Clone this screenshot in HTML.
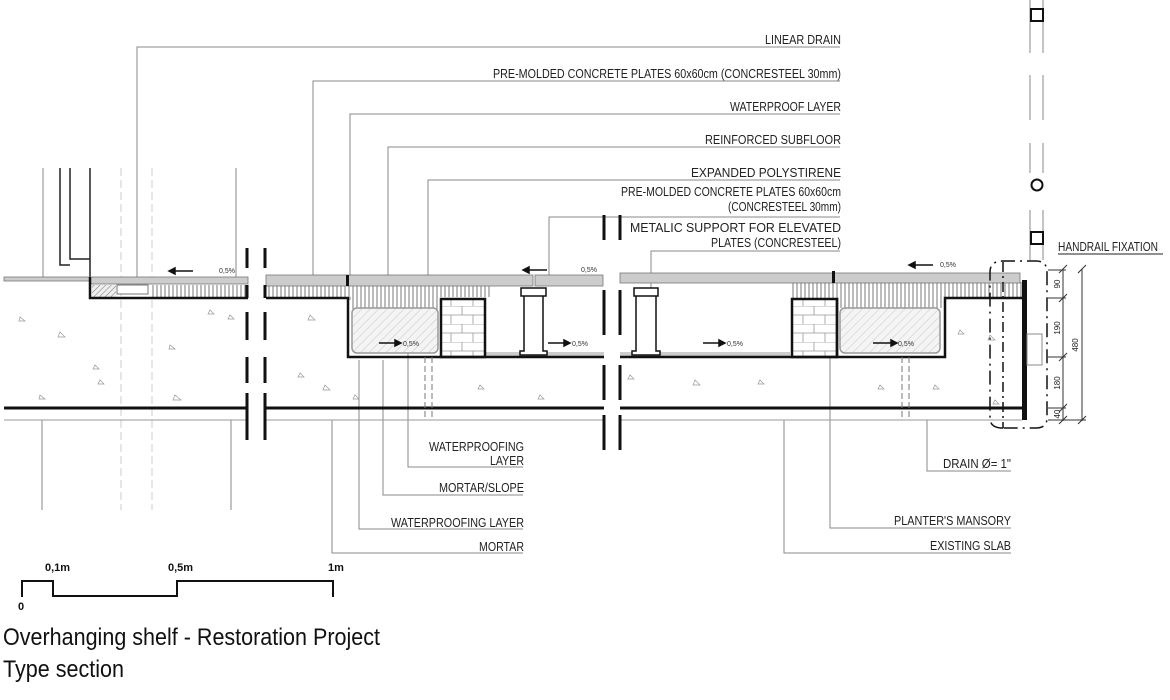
<!DOCTYPE html>
<html><head><meta charset="utf-8"><style>
html,body{margin:0;padding:0;background:#fff;}
svg{display:block;font-family:"Liberation Sans",sans-serif;}
.l{font-size:13px;fill:#222;}
</style></head><body>
<svg width="1170" height="700" viewBox="0 0 1170 700" xmlns="http://www.w3.org/2000/svg">
<defs>
<pattern id="vh" width="4" height="10" patternUnits="userSpaceOnUse"><rect width="4" height="10" fill="#fff"/><line x1="1" y1="0" x2="1" y2="10" stroke="#555" stroke-width="0.8"/></pattern>
<pattern id="dh" width="6" height="6" patternUnits="userSpaceOnUse" patternTransform="rotate(45)"><rect width="6" height="6" fill="#f4f4f4"/><line x1="0" y1="0" x2="0" y2="6" stroke="#bbb" stroke-width="0.8"/></pattern>
<pattern id="dh2" width="4" height="4" patternUnits="userSpaceOnUse" patternTransform="rotate(45)"><rect width="4" height="4" fill="#eee"/><line x1="0" y1="0" x2="0" y2="4" stroke="#555" stroke-width="0.8"/></pattern>
<pattern id="br" width="44" height="18" patternUnits="userSpaceOnUse"><rect width="44" height="18" fill="#fff"/><path d="M0 0H44M0 9H44M22 0V9M11 9V18M33 9V18" stroke="#999" stroke-width="0.8" fill="none"/></pattern>
</defs>
<g stroke="#888" stroke-width="1" fill="none">
<path d="M137 290V47H840"/><path d="M313 280V81H840"/><path d="M350 300V114H840"/><path d="M388 300V147H840"/><path d="M428 330V180H840"/><path d="M549 275V217H840"/><path d="M651 290V251H840"/>
<path d="M408 345V467H523"/><path d="M383 360V495H523"/><path d="M359 360V529H523"/><path d="M332 420V553H523"/>
<path d="M927 420V471H1011"/><path d="M830 340V528H1011"/><path d="M784 420V553H1011"/>
<line x1="43" y1="168" x2="43" y2="277"/><line x1="236" y1="168" x2="236" y2="277"/>
<line x1="42" y1="420" x2="42" y2="510"/><line x1="231" y1="420" x2="231" y2="510"/>
<path d="M1030 0V53M1043 0V53M1030 75V120M1043 75V120M1030 143V173M1043 143V173M1030 210V260M1043 210V260"/>
</g>
<path d="M60 168V265H70M70 168V259H90M90 168V277" stroke="#222" stroke-width="1.5" fill="none"/>
<g stroke="#ccc" stroke-dasharray="8 4" stroke-width="1"><line x1="121" y1="168" x2="121" y2="510"/><line x1="152" y1="168" x2="152" y2="510"/></g>
<rect x="1031" y="9" width="12" height="12" fill="#fff" stroke="#111" stroke-width="2"/>
<circle cx="1037" cy="185" r="5.5" fill="#fff" stroke="#111" stroke-width="2"/>
<rect x="1031" y="232" width="12" height="12" fill="#fff" stroke="#111" stroke-width="2"/>

<rect x="4" y="277" width="86" height="4" fill="#ccc" stroke="#777" stroke-width="0.8"/>
<rect x="90" y="277" width="158" height="7" fill="#ccc" stroke="#777" stroke-width="0.8"/>
<rect x="92" y="285" width="24" height="12" fill="url(#dh2)"/>
<rect x="117" y="285" width="31" height="9" fill="#fff" stroke="#777" stroke-width="1"/>
<rect x="150" y="285" width="98" height="12" fill="url(#vh)"/>
<path d="M90 277V298H248" stroke="#111" stroke-width="2.5" fill="none"/>
<line x1="4" y1="408" x2="248" y2="408" stroke="#111" stroke-width="3"/>
<line x1="4" y1="420" x2="248" y2="420" stroke="#999" stroke-width="1"/>

<rect x="266" y="285" width="224" height="12" fill="url(#vh)"/>
<rect x="352" y="297" width="86" height="12" fill="url(#vh)"/>
<rect x="352" y="308" width="86" height="45" rx="5" fill="url(#dh)" stroke="#999" stroke-width="1.5"/>
<rect x="441" y="300" width="44" height="56" fill="url(#br)"/>
<rect x="486" y="352" width="118" height="5" fill="#ccc"/>
<path d="M266 298H348V357H604" stroke="#111" stroke-width="2.5" fill="none"/>
<rect x="441" y="299" width="44" height="58" fill="none" stroke="#111" stroke-width="2.5"/>
<rect x="266" y="275" width="267" height="11" fill="#ccc" stroke="#777" stroke-width="0.8"/>
<rect x="535" y="275" width="68" height="11" fill="#ccc" stroke="#777" stroke-width="0.8"/>
<rect x="346" y="275" width="3" height="11" fill="#111"/>
<path d="M524 296V351H520V355H547V351H543V296ZM521 288H546V296H521Z" fill="#fff" stroke="#111" stroke-width="1.5"/>
<line x1="266" y1="408" x2="604" y2="408" stroke="#111" stroke-width="3"/>
<line x1="266" y1="420" x2="604" y2="420" stroke="#999" stroke-width="1"/>
<path d="M425 357V420M432 357V420" stroke="#777" stroke-dasharray="6 3"/>

<rect x="620" y="352" width="170" height="5" fill="#ccc"/>
<rect x="790" y="282" width="232" height="16" fill="url(#vh)"/>
<rect x="838" y="298" width="104" height="10" fill="url(#vh)"/>
<rect x="840" y="308" width="100" height="45" rx="5" fill="url(#dh)" stroke="#999" stroke-width="1.5"/>
<rect x="792" y="300" width="45" height="56" fill="url(#br)"/>
<path d="M620 357H837V298M837 357H945V298H1022" stroke="#111" stroke-width="2.5" fill="none"/>
<rect x="792" y="299" width="45" height="58" fill="none" stroke="#111" stroke-width="2.5"/>
<rect x="620" y="273" width="400" height="10" fill="#ccc" stroke="#777" stroke-width="0.8"/>
<rect x="832" y="271" width="3" height="12" fill="#111"/>
<path d="M636 296V351H632V355H660V351H656V296ZM634 288H658V296H634Z" fill="#fff" stroke="#111" stroke-width="1.5"/>
<line x1="620" y1="408" x2="1022" y2="408" stroke="#111" stroke-width="3"/>
<line x1="620" y1="420" x2="1022" y2="420" stroke="#999" stroke-width="1"/>
<path d="M902 357V420M909 357V420" stroke="#777" stroke-dasharray="6 3"/>
<rect x="1022" y="280" width="5" height="140" fill="#111"/>
<rect x="1027" y="334" width="15" height="31" fill="#fff" stroke="#888"/>
<line x1="1003" y1="262" x2="1003" y2="428" stroke="#111" stroke-width="1.5" stroke-dasharray="10 4 2 4"/>
<path d="M1003 428Q990 428 990 418V272Q990 261 1003 261H1036Q1047 261 1047 272V418Q1047 428 1036 428Z" fill="none" stroke="#111" stroke-width="1.5" stroke-dasharray="14 5 2 5"/>
<g stroke="#333" stroke-width="1"><line x1="1063" y1="269" x2="1063" y2="421"/><line x1="1082" y1="269" x2="1082" y2="421"/>
<path d="M1059 273l8-8M1059 302l8-8M1059 361l8-8M1059 412l8-8M1059 424l8-8M1078 273l8-8M1078 424l8-8M1048 270H1066M1048 298H1066M1048 357H1066M1048 408H1066M1048 420H1086"/></g>
<g font-size="8" fill="#222" text-anchor="middle">
<text transform="translate(1060,284) rotate(-90)">90</text><text transform="translate(1060,328) rotate(-90)">190</text><text transform="translate(1060,383) rotate(-90)">180</text><text transform="translate(1060,414) rotate(-90)">40</text><text transform="translate(1078,345) rotate(-90)">480</text></g>

<g stroke="#111" stroke-width="3"><path d="M247 248V268M247 285V298M247 312V340M247 357V383M247 393V440M265 248V268M265 285V298M265 312V340M265 357V383M265 393V440M604 215V240M604 290V335M604 365V400M604 415V450M620 215V240M620 290V335M620 365V400M620 415V450"/></g>

<g stroke="#111" stroke-width="1.5" fill="#111">
<path d="M193 271H173"/><path d="M169 271l6-3v6z"/>
<path d="M547 270H527"/><path d="M523 270l6-3v6z"/>
<path d="M933 265H913"/><path d="M909 265l6-3v6z"/>
<path d="M379 343H397"/><path d="M401 343l-6-3v6z"/>
<path d="M548 343H566"/><path d="M570 343l-6-3v6z"/>
<path d="M703 343H721"/><path d="M725 343l-6-3v6z"/>
<path d="M873 343H893"/><path d="M897 343l-6-3v6z"/>
</g>
<g font-size="7" fill="#333"><text x="219" y="273">0,5%</text><text x="581" y="272">0,5%</text><text x="940" y="267">0,5%</text><text x="403" y="346">0,5%</text><text x="572" y="346">0,5%</text><text x="727" y="346">0,5%</text><text x="898" y="346">0,5%</text></g>

<g fill="none" stroke="#999" stroke-width="0.7">
<path d="M20 317l5 4h-6z M60 332l5 5h-7z M95 365l4 4h-6z M170 345l5 4h-6z M210 310l4 4h-6z M40 395l5 4h-6z M175 395l6 5h-8z M230 315l4 4h-6z M100 380l4 4h-6z M310 315l5 5h-7z M300 373l4 4h-6z M325 385l5 5h-7z M355 395l4 4h-6z M630 375l4 4h-6z M695 380l5 5h-7z M760 380l4 4h-6z M880 385l4 4h-6z M960 330l4 4h-6z M990 335l5 5h-7z M935 385l4 4h-6z M995 400l4 4h-6z M540 395l4 4h-6z M480 385l4 4h-6z"/></g>

<g class="l" text-anchor="end" lengthAdjust="spacingAndGlyphs">
<text x="841" y="44" textLength="76" lengthAdjust="spacingAndGlyphs">LINEAR DRAIN</text>
<text x="841" y="78" textLength="348" lengthAdjust="spacingAndGlyphs">PRE-MOLDED CONCRETE PLATES 60x60cm (CONCRESTEEL 30mm)</text>
<text x="841" y="111" textLength="111" lengthAdjust="spacingAndGlyphs">WATERPROOF LAYER</text>
<text x="841" y="144" textLength="136" lengthAdjust="spacingAndGlyphs">REINFORCED SUBFLOOR</text>
<text x="841" y="177" textLength="150" lengthAdjust="spacingAndGlyphs">EXPANDED POLYSTIRENE</text>
<text x="841" y="196" textLength="220" lengthAdjust="spacingAndGlyphs">PRE-MOLDED CONCRETE PLATES 60x60cm</text>
<text x="841" y="211" textLength="113" lengthAdjust="spacingAndGlyphs">(CONCRESTEEL 30mm)</text>
<text x="841" y="232" textLength="211" lengthAdjust="spacingAndGlyphs">METALIC SUPPORT FOR ELEVATED</text>
<text x="841" y="247" textLength="130" lengthAdjust="spacingAndGlyphs">PLATES (CONCRESTEEL)</text>
<text x="524" y="451" textLength="95" lengthAdjust="spacingAndGlyphs">WATERPROOFING</text>
<text x="524" y="465" textLength="34" lengthAdjust="spacingAndGlyphs">LAYER</text>
<text x="524" y="492" textLength="85" lengthAdjust="spacingAndGlyphs">MORTAR/SLOPE</text>
<text x="524" y="527" textLength="133" lengthAdjust="spacingAndGlyphs">WATERPROOFING LAYER</text>
<text x="524" y="551" textLength="45" lengthAdjust="spacingAndGlyphs">MORTAR</text>
<text x="1011" y="468" textLength="68" lengthAdjust="spacingAndGlyphs">DRAIN  Ø= 1"</text>
<text x="1011" y="525" textLength="117" lengthAdjust="spacingAndGlyphs">PLANTER'S MANSORY</text>
<text x="1011" y="550" textLength="81" lengthAdjust="spacingAndGlyphs">EXISTING SLAB</text>
</g>
<text x="1058" y="251" class="l" textLength="100" lengthAdjust="spacingAndGlyphs">HANDRAIL FIXATION</text>
<line x1="1058" y1="254" x2="1163" y2="254" stroke="#222" stroke-width="1"/>

<path d="M22 597V581H53V596H177V581H333V597" stroke="#111" stroke-width="2" fill="none"/>
<g font-size="11" font-weight="bold" fill="#111"><text x="45" y="571">0,1m</text><text x="168" y="571">0,5m</text><text x="328" y="571">1m</text><text x="18" y="610">0</text></g>
<text x="3" y="645" font-size="24" fill="#111" textLength="377" lengthAdjust="spacingAndGlyphs">Overhanging shelf - Restoration Project</text>
<text x="3" y="677" font-size="24" fill="#111" textLength="121" lengthAdjust="spacingAndGlyphs">Type section</text>
</svg>
</body></html>
